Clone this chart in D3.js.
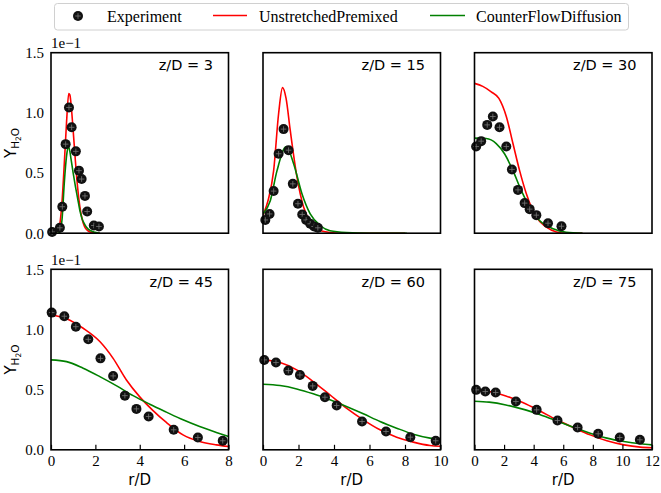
<!DOCTYPE html>
<html>
<head>
<meta charset="utf-8">
<script src="https://cdn.jsdelivr.net/npm/d3@7"></script>
<style>
  html, body { margin: 0; padding: 0; background: #fff; }
  svg { display: block; }
</style>
</head>
<body>
<svg id="chart" width="661" height="493"></svg>
<script>
// ---------------- DATA (Y_H2O in units of 1e-1) ----------------
const stations = [3, 15, 30, 45, 60, 75];          // z/D
const xMaxByStation = [8, 10, 12, 8, 10, 12];       // r/D axis limits
const yTicks = [0.0, 0.5, 1.0, 1.5];
const seriesNames = ["Experiment", "UnstretchedPremixed", "CounterFlowDiffusion"];

// Experiment
const expR_3  = [0.05, 0.40, 0.51, 0.66, 0.81, 0.93, 1.12, 1.26, 1.38, 1.53, 1.63, 1.93, 2.16];
const expY_3  = [0.01, 0.045, 0.22, 0.74, 1.045, 0.88, 0.68, 0.52, 0.45, 0.31, 0.18, 0.064, 0.056];
const expR_15 = [0.13, 0.37, 0.60, 0.88, 1.16, 1.44, 1.68, 1.97, 2.21, 2.43, 2.66, 2.88, 3.09];
const expY_15 = [0.11, 0.16, 0.35, 0.66, 0.865, 0.69, 0.41, 0.245, 0.156, 0.11, 0.078, 0.056, 0.045];
const expR_30 = [0.11, 0.45, 0.86, 1.24, 1.69, 2.15, 2.53, 2.94, 3.39, 3.73, 4.18, 4.97, 5.88];
const expY_30 = [0.72, 0.765, 0.90, 0.97, 0.88, 0.72, 0.53, 0.36, 0.25, 0.20, 0.15, 0.083, 0.058];
const expR_45 = [0.03, 0.60, 1.12, 1.68, 2.23, 2.80, 3.33, 3.85, 4.40, 5.53, 6.62, 7.74];
const expY_45 = [1.14, 1.11, 1.023, 0.918, 0.76, 0.614, 0.45, 0.34, 0.277, 0.166, 0.102, 0.075];
const expR_60 = [0.07, 0.73, 1.43, 2.08, 2.80, 3.49, 4.15, 5.58, 6.93, 8.30, 9.73];
const expY_60 = [0.747, 0.725, 0.658, 0.622, 0.531, 0.437, 0.368, 0.235, 0.152, 0.105, 0.075];
const expR_75 = [0.11, 0.73, 1.43, 2.80, 4.20, 5.61, 6.97, 8.36, 9.82, 11.18];
const expY_75 = [0.498, 0.484, 0.476, 0.401, 0.332, 0.243, 0.185, 0.133, 0.102, 0.083];

// UnstretchedPremixed
const upR_3  = [0.0, 0.2, 0.3, 0.4, 0.5, 0.6, 0.7, 0.8, 0.85, 0.9, 1.0, 1.1, 1.2, 1.3, 1.4, 1.5, 1.6, 1.8, 2.0, 2.2];
const upY_3  = [0.0, 0.005, 0.02, 0.08, 0.27, 0.58, 0.92, 1.16, 1.15, 1.08, 0.85, 0.60, 0.38, 0.22, 0.12, 0.06, 0.03, 0.008, 0.002, 0.0];
const upR_15 = [0.0, 0.3, 0.6, 0.88, 1.1, 1.3, 1.53, 1.91, 2.28, 2.75, 3.26, 3.8, 4.3, 5.5, 8.0];
const upY_15 = [0.15, 0.28, 0.52, 0.995, 1.21, 1.12, 0.86, 0.47, 0.22, 0.08, 0.02, 0.006, 0.0, 0.0, 0.0];
const upR_30 = [0.0, 0.56, 1.13, 1.65, 2.15, 2.6, 3.05, 3.5, 4.18, 4.86, 5.54, 6.2, 7.3];
const upY_30 = [1.245, 1.22, 1.175, 1.12, 0.97, 0.745, 0.52, 0.33, 0.133, 0.05, 0.01, 0.0, 0.0];
const upR_45 = [0.0, 0.7, 1.45, 2.2, 2.8, 3.4, 4.0, 4.6, 5.2, 5.95, 6.7, 7.45, 8.0];
const upY_45 = [1.12, 1.09, 1.01, 0.90, 0.76, 0.58, 0.44, 0.326, 0.227, 0.124, 0.069, 0.041, 0.027];
const upR_60 = [0.0, 0.96, 1.9, 2.83, 3.77, 4.7, 5.65, 6.59, 7.53, 8.47, 9.41, 10.0];
const upY_60 = [0.747, 0.725, 0.664, 0.567, 0.456, 0.346, 0.249, 0.166, 0.105, 0.064, 0.036, 0.03];
const upR_75 = [0.0, 0.99, 2.12, 3.26, 4.4, 5.55, 6.68, 7.82, 8.95, 10.1, 11.2, 12.0];
const upY_75 = [0.498, 0.484, 0.448, 0.393, 0.324, 0.249, 0.185, 0.124, 0.075, 0.041, 0.022, 0.017];

// CounterFlowDiffusion
const cfR_3  = [0.0, 0.3, 0.4, 0.5, 0.6, 0.7, 0.78, 0.85, 0.9, 1.0, 1.1, 1.2, 1.3, 1.4, 1.5, 1.6, 1.8, 2.0, 2.2];
const cfY_3  = [0.0, 0.0, 0.01, 0.12, 0.42, 0.64, 0.72, 0.68, 0.62, 0.50, 0.39, 0.29, 0.19, 0.12, 0.08, 0.05, 0.02, 0.007, 0.0];
const cfR_15 = [0.0, 0.41, 0.79, 1.31, 1.72, 2.19, 2.66, 3.22, 3.78, 4.7, 6.0, 8.1];
const cfY_15 = [0.16, 0.27, 0.52, 0.72, 0.58, 0.33, 0.16, 0.064, 0.02, 0.005, 0.0, 0.0];
const cfR_30 = [0.0, 0.79, 1.47, 2.03, 2.6, 3.16, 3.73, 4.4, 5.31, 6.2, 7.3];
const cfY_30 = [0.79, 0.787, 0.745, 0.66, 0.52, 0.356, 0.217, 0.106, 0.037, 0.008, 0.0];
const cfR_45 = [0.0, 0.7, 1.45, 2.2, 2.96, 3.7, 4.45, 5.2, 5.95, 6.7, 7.45, 8.0];
const cfY_45 = [0.747, 0.733, 0.678, 0.608, 0.531, 0.45, 0.379, 0.313, 0.249, 0.193, 0.144, 0.11];
const cfR_60 = [0.0, 0.96, 1.9, 2.83, 3.77, 4.7, 5.65, 6.59, 7.53, 8.47, 9.41, 10.0];
const cfY_60 = [0.545, 0.534, 0.506, 0.465, 0.415, 0.36, 0.299, 0.235, 0.18, 0.13, 0.097, 0.083];
const cfR_75 = [0.0, 0.99, 2.12, 3.26, 4.4, 5.55, 6.68, 7.82, 8.95, 10.1, 11.2, 12.0];
const cfY_75 = [0.404, 0.396, 0.373, 0.338, 0.293, 0.241, 0.188, 0.138, 0.097, 0.069, 0.05, 0.041];

// ---------------- BUILD ----------------
const zip = (a, b) => a.map((v, i) => [v, b[i]]);
const panels = [
  {z: 3,  exp: zip(expR_3,  expY_3),  up: zip(upR_3,  upY_3),  cf: zip(cfR_3,  cfY_3)},
  {z: 15, exp: zip(expR_15, expY_15), up: zip(upR_15, upY_15), cf: zip(cfR_15, cfY_15)},
  {z: 30, exp: zip(expR_30, expY_30), up: zip(upR_30, upY_30), cf: zip(cfR_30, cfY_30)},
  {z: 45, exp: zip(expR_45, expY_45), up: zip(upR_45, upY_45), cf: zip(cfR_45, cfY_45)},
  {z: 60, exp: zip(expR_60, expY_60), up: zip(upR_60, upY_60), cf: zip(cfR_60, cfY_60)},
  {z: 75, exp: zip(expR_75, expY_75), up: zip(upR_75, upY_75), cf: zip(cfR_75, cfY_75)}
];
panels.forEach((p, i) => { p.xmax = xMaxByStation[i]; });

const svg = d3.select("#chart");
const SERIF = "'Liberation Serif', 'Times New Roman', serif";
const SANS = "'DejaVu Sans', sans-serif";
const RED = "#ff0000", GREEN = "#008000";

const colLeft = [51, 263, 474.5];
const rowTop = [52.7, 269.3];
const pw = 177.5, ph = 180.5;

const defs = svg.append("defs");

panels.forEach((p, i) => {
  const col = i % 3, row = Math.floor(i / 3);
  const x0 = colLeft[col], y0 = rowTop[row];
  const g = svg.append("g").attr("transform", `translate(${x0},${y0})`);
  const x = d3.scaleLinear().domain([0, p.xmax]).range([0, pw]);
  const y = d3.scaleLinear().domain([0, 1.5]).range([ph, 0]);

  const clipId = "clip" + i;
  defs.append("clipPath").attr("id", clipId)
    .append("rect").attr("x", 0).attr("y", 0).attr("width", pw).attr("height", ph);

  const line = d3.line().x(d => x(d[0])).y(d => y(d[1])).curve(d3.curveMonotoneX);
  const plot = g.append("g").attr("clip-path", `url(#${clipId})`);

  plot.append("path").datum(p.up).attr("d", line)
    .attr("fill", "none").attr("stroke", RED).attr("stroke-width", 1.6);
  plot.append("path").datum(p.cf).attr("d", line)
    .attr("fill", "none").attr("stroke", GREEN).attr("stroke-width", 1.6);

  // experiment markers (allowed to overflow axes like matplotlib)
  const mk = g.append("g").selectAll("g").data(p.exp).join("g")
    .attr("transform", d => `translate(${x(d[0])},${y(d[1])})`);
  mk.append("circle").attr("r", 5).attr("fill", "#111");
  mk.append("path").attr("d", "M-2.8,0H2.8M0,-2.8V2.8")
    .attr("stroke", "#777").attr("stroke-width", 0.8);

  // bottom axis ticks for bottom row
  if (row === 1) {
    const ax = d3.axisBottom(x).tickValues(d3.range(0, p.xmax + 0.001, 2))
      .tickSizeInner(-5).tickSizeOuter(0).tickPadding(6).tickFormat(d3.format("d"));
    const axg = g.append("g").attr("transform", `translate(0,${ph})`).call(ax);
    axg.select(".domain").remove();
    axg.selectAll("line").attr("stroke", "#000").attr("stroke-width", 1.2);
    axg.selectAll("text").attr("font-family", SERIF).attr("font-size", 15).attr("fill", "#000");

    g.append("text").attr("x", pw / 2).attr("y", ph + 35)
      .attr("text-anchor", "middle").attr("font-family", SANS).attr("font-size", 15)
      .attr("font-weight", 400).attr("fill", "#000").text("r/D");
  }

  // y axis labels for first column
  if (col === 0) {
    const ay = d3.axisLeft(y).tickValues(yTicks).tickSize(0).tickPadding(7)
      .tickFormat(d3.format(".1f"));
    const ayg = g.append("g").call(ay);
    ayg.select(".domain").remove();
    ayg.selectAll("text").attr("font-family", SERIF).attr("font-size", 15).attr("fill", "#000");

    g.append("text").attr("x", 0).attr("y", -4.5)
      .attr("font-family", SERIF).attr("font-size", 15).attr("fill", "#000").text("1e\u22121");

    const yl = g.append("text")
      .attr("transform", `translate(${-35},${ph / 2}) rotate(-90)`)
      .attr("text-anchor", "middle").attr("font-family", SANS).attr("font-weight", 400)
      .attr("fill", "#000");
    yl.append("tspan").attr("font-size", 15).text("Y");
    yl.append("tspan").attr("font-size", 10.5).attr("dy", 3).text("H");
    yl.append("tspan").attr("font-size", 7.5).attr("dy", 2).text("2");
    yl.append("tspan").attr("font-size", 10.5).attr("dy", -2).text("O");
  }

  // frame
  g.append("rect").attr("x", 0).attr("y", 0).attr("width", pw).attr("height", ph)
    .attr("fill", "none").attr("stroke", "#000").attr("stroke-width", 1.6);

  // station label
  g.append("text").attr("x", pw - 15.5).attr("y", 17.5)
    .attr("text-anchor", "end").attr("font-family", SANS).attr("font-size", 14.5)
    .attr("font-weight", 400).attr("fill", "#000").text(`z/D = ${p.z}`);
});

// ---------------- LEGEND ----------------
const lg = svg.append("g");
lg.append("rect").attr("x", 54.5).attr("y", 3.5).attr("width", 574).attr("height", 26.5)
  .attr("rx", 3).attr("fill", "#fff").attr("stroke", "#d0d0d0").attr("stroke-width", 1);
const lm = lg.append("g").attr("transform", "translate(78,16)");
lm.append("circle").attr("r", 5).attr("fill", "#111");
lm.append("path").attr("d", "M-2.8,0H2.8M0,-2.8V2.8").attr("stroke", "#777").attr("stroke-width", 0.8);
lg.append("text").attr("x", 107).attr("y", 21.5).attr("font-family", SERIF).attr("font-size", 16)
  .attr("fill", "#000").text(seriesNames[0]);
lg.append("line").attr("x1", 213).attr("x2", 247).attr("y1", 15.5).attr("y2", 15.5)
  .attr("stroke", RED).attr("stroke-width", 1.6);
lg.append("text").attr("x", 259).attr("y", 21.5).attr("font-family", SERIF).attr("font-size", 16)
  .attr("fill", "#000").text(seriesNames[1]);
lg.append("line").attr("x1", 430).attr("x2", 465).attr("y1", 15.5).attr("y2", 15.5)
  .attr("stroke", GREEN).attr("stroke-width", 1.6);
lg.append("text").attr("x", 476).attr("y", 21.5).attr("font-family", SERIF).attr("font-size", 16)
  .attr("fill", "#000").text(seriesNames[2]);
</script>
</body>
</html>
